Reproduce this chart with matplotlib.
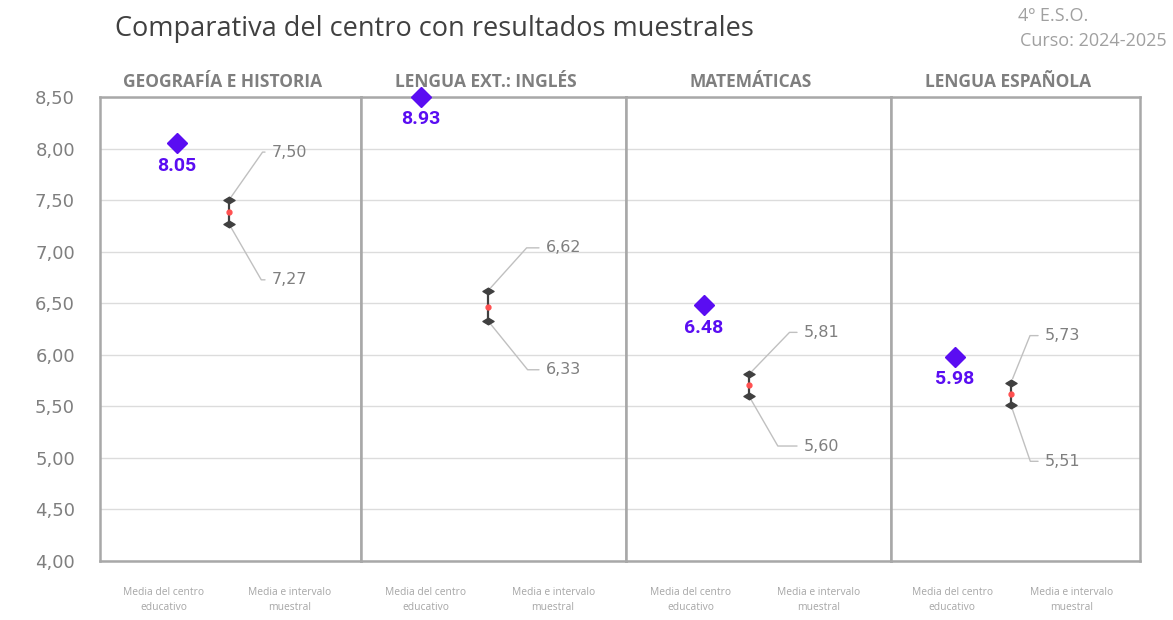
import numpy as np
import matplotlib
matplotlib.use("Agg")
import matplotlib.pyplot as plt
from matplotlib.path import Path

# ---- data ----
subjects = ["GEOGRAFÍA E HISTORIA", "LENGUA EXT.: INGLÉS", "MATEMÁTICAS", "LENGUA ESPAÑOLA"]
centro = [8.05, 8.93, 6.48, 5.98]
muestra_low = [7.27, 6.33, 5.60, 5.51]
muestra_high = [7.50, 6.62, 5.81, 5.73]
muestra_mean = [7.385, 6.465, 5.705, 5.62]
categories = ["Media del centro\neducativo", "Media e intervalo\nmuestral"]
yticks = [4.0, 4.5, 5.0, 5.5, 6.0, 6.5, 7.0, 7.5, 8.0, 8.5]

# ---- layout / style ----
YMIN, YMAX = 4.0, 8.5
PX = 0.72  # points per pixel at dpi 100
panel_widths = [261, 265, 265, 249]
centro_x = [0.295, 0.226, 0.294, 0.257]
muestra_x = [0.494, 0.479, 0.464, 0.482]
cat_x = [0.245, 0.725]
# label placement (pixels): text dx, up dy, down dy, up angle, down angle
lab_dx = [43, 58, 55, 34]
lab_up = [48, 43, 42, 47]
lab_dn = [56, 49, 50, 56]
ang_up = [55, 48, 46, 68]
ang_dn = [60, 51, 60, 71]

BLUE = "#5a0df2"
GRAY_TXT = "#7f7f7f"
FONT = ["Open Sans", "DejaVu Sans"]
NUMFONT = ["DejaVu Sans"]

flat_diamond = Path([(-1, 0), (0, 0.6), (1, 0), (0, -0.6), (-1, 0)],
                    [Path.MOVETO, Path.LINETO, Path.LINETO, Path.LINETO, Path.CLOSEPOLY])

plt.rcParams["font.family"] = FONT

fig = plt.figure(figsize=(11.73, 6.2), dpi=100)
gs = fig.add_gridspec(1, 4, width_ratios=panel_widths, wspace=0,
                      left=100/1173, right=1140/1173, bottom=1-561/620, top=1-97/620)
axes = [fig.add_subplot(gs[0, i]) for i in range(4)]

for i, ax in enumerate(axes):
    ax.set_xlim(0, 1)
    ax.set_ylim(YMIN, YMAX)
    ax.set_yticks(yticks)
    ax.grid(axis="y", color="#dcdcdc", lw=1)
    ax.set_axisbelow(True)
    for s in ax.spines.values():
        s.set_color("#a8a8a8")
        s.set_linewidth(1.8)
    ax.set_xticks(cat_x)
    ax.set_xticklabels(categories, fontsize=7.4, color="#a6a6a6", linespacing=1.45)
    ax.tick_params(axis="x", length=0, pad=19)
    if i == 0:
        ax.set_yticklabels([f"{v:.2f}".replace(".", ",") for v in yticks],
                           fontsize=13, color=GRAY_TXT, family=NUMFONT)
        ax.tick_params(axis="y", length=0, pad=18)
    else:
        ax.tick_params(axis="y", length=0, labelleft=False)
    ax.set_title(subjects[i], fontsize=12.5, fontweight="bold", color=GRAY_TXT, pad=7, x=0.47)

    # centre mean
    yc = min(centro[i], YMAX)
    ax.plot([centro_x[i]], [yc], marker="D", ms=10, color=BLUE, clip_on=False, zorder=5)
    ax.annotate(f"{centro[i]:.2f}", xy=(centro_x[i], yc), xytext=(0, -16),
                textcoords="offset points", ha="center", va="center",
                fontsize=14, fontweight="bold", color=BLUE, family=["Roboto", "DejaVu Sans"],
                zorder=6)

    # sample interval
    mx = muestra_x[i]
    ax.plot([mx, mx], [muestra_low[i], muestra_high[i]], color="#404040", lw=1.6, zorder=4)
    ax.plot([mx, mx], [muestra_low[i], muestra_high[i]], ls="none", marker=flat_diamond, ms=8,
            color="#404040", zorder=5)
    ax.plot([mx], [muestra_mean[i]], ls="none", marker="o", ms=3.5, color="#ff5050", zorder=6)

    for val, dy, ang in [(muestra_high[i], lab_up[i], ang_up[i]),
                         (muestra_low[i], -lab_dn[i], -ang_dn[i])]:
        ax.annotate(f"{val:.2f}".replace(".", ","), xy=(mx, val),
                    xytext=(lab_dx[i] * PX, dy * PX),
                    textcoords="offset points", ha="left", va="center",
                    fontsize=11.5, color=GRAY_TXT, family=NUMFONT,
                    arrowprops=dict(arrowstyle="-", color="#c0c0c0", lw=1,
                                    shrinkA=3, shrinkB=3, relpos=(0, 0.5),
                                    connectionstyle=f"angle,angleA=0,angleB={ang},rad=0"))

fig.text(115/1173, 1-29/620, "Comparativa del centro con resultados muestrales",
         fontsize=19.5, color="#404040", ha="left", va="center")
fig.text(1018/1173, 1-16/620, "4º E.S.O.", fontsize=13, color="#a0a0a0", ha="left", va="center")
fig.text(1020/1173, 1-41/620, "Curso: 2024-2025", fontsize=13, color="#a0a0a0", ha="left", va="center")

fig.savefig("out.png", dpi=100)
